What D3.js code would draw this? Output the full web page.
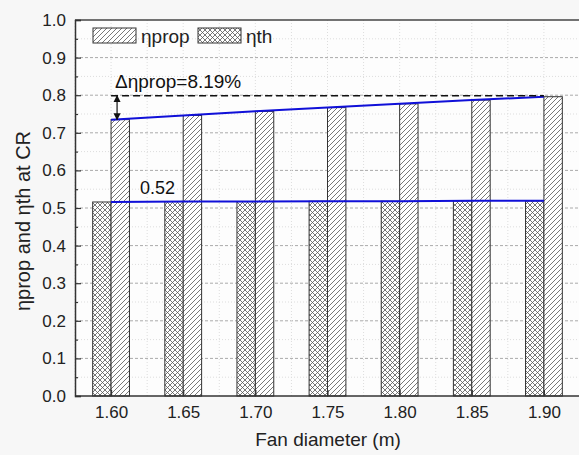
<!DOCTYPE html>
<html>
<head>
<meta charset="utf-8">
<script src="https://cdn.jsdelivr.net/npm/d3@7"></script>
<style>
  body { margin: 0; background: #f7f7f7; }
  svg { display: block; font-family: "Liberation Sans", Arial, sans-serif; }
</style>
</head>
<body>
<script>
// chart data
var diameters = [1.60, 1.65, 1.70, 1.75, 1.80, 1.85, 1.90];
var etaProp = [0.735, 0.746, 0.757, 0.767, 0.777, 0.787, 0.796];
var etaTh = [0.516, 0.517, 0.517, 0.518, 0.518, 0.519, 0.519];
var yTicks = [0, 0.1, 0.2, 0.3, 0.4, 0.5, 0.6, 0.7, 0.8, 0.9, 1.0];
var legendNames = ["\u03B7prop", "\u03B7th"];
var deltaLabel = "\u0394\u03B7prop=8.19%";
var thLabel = "0.52";

var W = 579, H = 455;
var pLeft = 75, pTop = 20, pBottom = 396, pRight = 580;
var FS = 17;   // tick labels
var FL = 19;   // legend, notes, x title

var svg = d3.select("body").append("svg")
        .attr("width", W)
        .attr("height", H);

var defs = svg.append("defs");
var hatch = defs.append("pattern")
        .attr("id", "hatch")
        .attr("patternUnits", "userSpaceOnUse")
        .attr("width", 5).attr("height", 5);
hatch.append("rect").attr("width", 5).attr("height", 5).attr("fill", "#fff");
hatch.append("path")
        .attr("d", "M-1,6 L6,-1 M-1,1 L1,-1 M4,6 L6,4")
        .attr("stroke", "#555").attr("stroke-width", 0.8);

var cross = defs.append("pattern")
        .attr("id", "cross")
        .attr("patternUnits", "userSpaceOnUse")
        .attr("width", 5).attr("height", 5);
cross.append("rect").attr("width", 5).attr("height", 5).attr("fill", "#fff");
cross.append("path")
        .attr("d", "M-1,6 L6,-1 M-1,1 L1,-1 M4,6 L6,4 M-1,-1 L6,6 M-1,4 L1,6 M4,-1 L6,1")
        .attr("stroke", "#555").attr("stroke-width", 0.8);

var x = d3.scaleLinear().domain([1.575, 1.925]).range([pLeft, pRight]);
var y = d3.scaleLinear().domain([0, 1]).range([pBottom, pTop]);

// plot background
svg.append("rect")
        .attr("x", pLeft).attr("y", pTop)
        .attr("width", W - pLeft).attr("height", pBottom - pTop)
        .attr("fill", "#fdfdfd");

// grid
var minorY = d3.range(0.05, 1, 0.1);
svg.append("g").selectAll("line").data(minorY).enter().append("line")
        .attr("x1", pLeft).attr("x2", W)
        .attr("y1", function(d){ return y(d); })
        .attr("y2", function(d){ return y(d); })
        .attr("stroke", "#ddd").attr("stroke-dasharray", "1,2");
svg.append("g").selectAll("line").data(yTicks.slice(1, -1)).enter().append("line")
        .attr("x1", pLeft).attr("x2", W)
        .attr("y1", function(d){ return y(d); })
        .attr("y2", function(d){ return y(d); })
        .attr("stroke", "#aaa").attr("stroke-dasharray", "3,2");
var minorX = diameters.map(function(d){ return d + 0.025; });
minorX.unshift(1.575);
svg.append("g").selectAll("line").data(minorX.concat(diameters)).enter().append("line")
        .attr("x1", function(d){ return x(d); })
        .attr("x2", function(d){ return x(d); })
        .attr("y1", pTop).attr("y2", pBottom)
        .attr("stroke", "#ddd").attr("stroke-dasharray", "1,2");

// bars
var bw = (x(1.65) - x(1.60)) * 0.255;
svg.append("g").selectAll("rect").data(etaTh).enter().append("rect")
        .attr("x", function(d, i){ return x(diameters[i]) - bw; })
        .attr("y", function(d){ return y(d); })
        .attr("width", bw)
        .attr("height", function(d){ return pBottom - y(d); })
        .attr("fill", "url(#cross)")
        .attr("stroke", "#333").attr("stroke-width", 1);
svg.append("g").selectAll("rect").data(etaProp).enter().append("rect")
        .attr("x", function(d, i){ return x(diameters[i]); })
        .attr("y", function(d){ return y(d); })
        .attr("width", bw)
        .attr("height", function(d){ return pBottom - y(d); })
        .attr("fill", "url(#hatch)")
        .attr("stroke", "#333").attr("stroke-width", 1);

// trend lines
var line = d3.line()
        .x(function(d, i){ return x(diameters[i]); })
        .y(function(d){ return y(d); });
svg.append("path").datum(etaProp).attr("d", line)
        .attr("fill", "none").attr("stroke", "#1010d8").attr("stroke-width", 2);
svg.append("path").datum(etaTh).attr("d", line)
        .attr("fill", "none").attr("stroke", "#1010d8").attr("stroke-width", 2);

// dashed reference + arrow
var pMax = etaProp[etaProp.length - 1];
svg.append("line")
        .attr("x1", x(diameters[0])).attr("x2", x(diameters[6]))
        .attr("y1", y(pMax) - 1).attr("y2", y(pMax) - 1)
        .attr("stroke", "#111").attr("stroke-width", 1.5)
        .attr("stroke-dasharray", "7,4");
defs.append("marker").attr("id", "arr")
        .attr("viewBox", "0 0 10 10").attr("refX", 9).attr("refY", 5)
        .attr("markerWidth", 6).attr("markerHeight", 6)
        .attr("orient", "auto-start-reverse")
        .append("path").attr("d", "M0,0 L10,5 L0,10 z").attr("fill", "#111");
var ax = x(diameters[0]) + 6;
svg.append("line")
        .attr("x1", ax).attr("x2", ax)
        .attr("y1", y(pMax) - 1).attr("y2", y(etaProp[0]))
        .attr("stroke", "#111").attr("stroke-width", 1.2)
        .attr("marker-start", "url(#arr)").attr("marker-end", "url(#arr)");

// annotations
svg.append("text").attr("x", 115).attr("y", 88)
        .attr("font-size", FL).attr("fill", "#111").text(deltaLabel);
svg.append("text").attr("x", 140).attr("y", 194)
        .attr("font-size", 18).attr("fill", "#111").text(thLabel);

// axes
svg.append("line").attr("x1", pLeft).attr("x2", W)
        .attr("y1", pTop).attr("y2", pTop)
        .attr("stroke", "#444").attr("stroke-width", 1.5);

var yAxis = svg.append("g")
        .attr("transform", "translate(" + pLeft + ",0)")
        .call(d3.axisLeft(y).tickValues(yTicks).tickSize(-6).tickPadding(9).tickFormat(d3.format(".1f")));
svg.append("g").attr("transform", "translate(" + pLeft + ",0)")
        .call(d3.axisLeft(y).tickValues(minorY).tickSize(-3).tickFormat(""))
        .select(".domain").remove();

var xAxis = svg.append("g")
        .attr("transform", "translate(0," + pBottom + ")")
        .call(d3.axisBottom(x).tickValues(diameters).tickSize(-6).tickPadding(10).tickFormat(d3.format(".2f")));
xAxis.select(".domain").attr("d", "M" + pLeft + ",0H" + W);

svg.selectAll(".domain").attr("stroke", "#333").attr("stroke-width", 1.5);
svg.selectAll(".tick line").attr("stroke", "#333").attr("stroke-width", 1.2);
svg.selectAll(".tick text").attr("font-size", FS).attr("fill", "#222")
        .attr("font-family", "Liberation Sans, Arial, sans-serif");

svg.append("text")
        .attr("x", 328).attr("y", 446)
        .attr("text-anchor", "middle").attr("font-size", FL).attr("fill", "#222")
        .text("Fan diameter (m)");
svg.append("text")
        .attr("transform", "translate(30,221) rotate(-90)")
        .attr("text-anchor", "middle").attr("font-size", 20).attr("fill", "#222")
        .text("\u03B7prop and \u03B7th at CR");

// legend
var lg = svg.append("g");
var pats = ["url(#hatch)", "url(#cross)"];
var lx = [93, 198];
lg.selectAll("rect").data(legendNames).enter().append("rect")
        .attr("x", function(d, i){ return lx[i]; }).attr("y", 28)
        .attr("width", 43).attr("height", 15)
        .attr("fill", function(d, i){ return pats[i]; })
        .attr("stroke", "#333");
lg.selectAll("text").data(legendNames).enter().append("text")
        .attr("x", function(d, i){ return lx[i] + 48; }).attr("y", 43)
        .attr("font-size", FL).attr("fill", "#222")
        .text(function(d){ return d; });
</script>
</body>
</html>
